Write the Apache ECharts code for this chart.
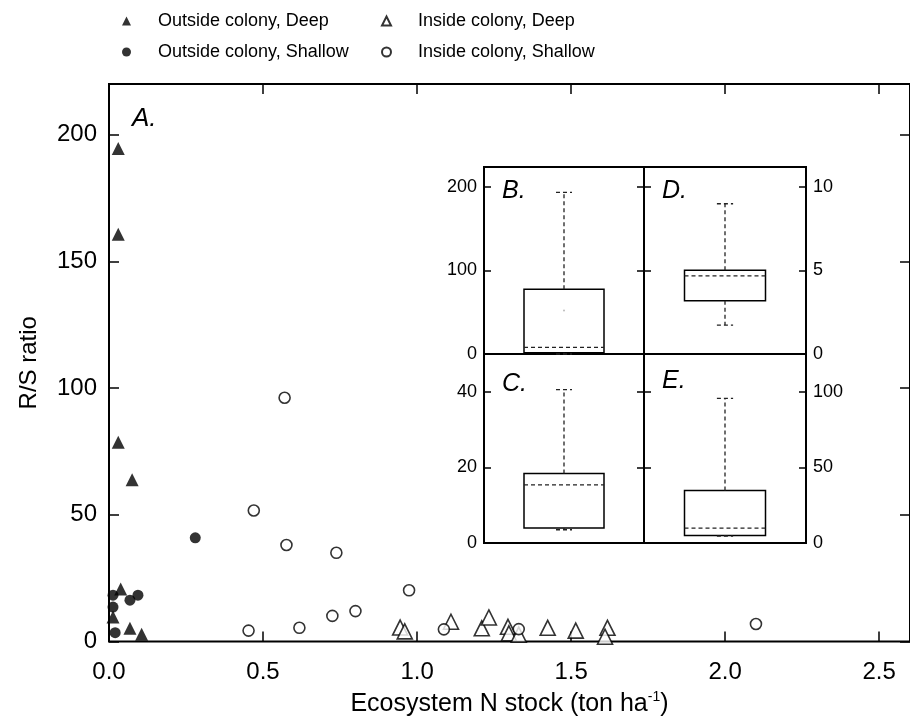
<!DOCTYPE html>
<html>
<head>
<meta charset="utf-8">
<script src="https://cdn.jsdelivr.net/npm/echarts@6/dist/echarts.min.js"></script>
<style>html,body{margin:0;padding:0;background:#fff}#c{width:910px;height:722px}</style>
</head>
<body>
<div id="c"></div>
<script>
// ---- data ----
const outsideDeep = [[0.03,194.5],[0.03,160.7],[0.03,78.6],[0.075,63.8],[0.038,20.7],[0.013,9.7],[0.068,5.2],[0.106,2.9]];
const outsideShallow = [[0.28,40.9],[0.013,18.3],[0.068,16.3],[0.094,18.3],[0.013,13.6],[0.02,3.5]];
const insideDeep = [[0.945,5.5],[0.96,4],[1.11,7.8],[1.21,5.2],[1.233,9.5],[1.295,5.8],[1.298,3.2],[1.33,2.7],[1.424,5.4],[1.515,4.3],[1.618,5.4],[1.61,1.9]];
const insideShallow = [[0.57,96.2],[0.47,51.7],[0.576,38.1],[0.738,35],[0.453,4.3],[0.618,5.4],[0.725,10.1],[0.80,12],[0.974,20.2],[1.087,4.8],[1.33,4.9],[2.10,6.9]];
// box plots: [min, q1, dashed line, q3, max]
const boxB = [0, 1.5, 8, 77.5, 193.6];
const meanB = 52;
const boxD = [1.73, 3.19, 4.68, 5.02, 9.0];
const boxC = [3.5, 4.0, 15.4, 18.4, 40.6];
const boxE = [4.5, 5.0, 9.9, 34.8, 95.6];
const seriesNames = ['Outside colony, Deep','Outside colony, Shallow','Inside colony, Deep','Inside colony, Shallow'];

const FONT = 'Liberation Sans, Arial, sans-serif';
const chart = echarts.init(document.getElementById('c'));

function renderBox(params, api){
  const mn=api.value(1), q1=api.value(2), md=api.value(3), q3=api.value(4), mx=api.value(5);
  const p=(x,y)=>api.coord([x,y]);
  const a=p(0.25,q3), b=p(0.75,q1);
  const dash={stroke:'#222', lineWidth:1.3, lineDash:[4,3], fill:null};
  const ln=(x1,y1,x2,y2)=>{const s=p(x1,y1),e=p(x2,y2);return {type:'line',shape:{x1:s[0],y1:s[1],x2:e[0],y2:e[1]},style:dash};};
  return {type:'group', children:[
    {type:'rect', shape:{x:a[0], y:a[1], width:b[0]-a[0], height:b[1]-a[1]}, style:{fill:'#fff', stroke:'#000', lineWidth:1.5}},
    ln(0.5,q3,0.5,mx), ln(0.45,mx,0.55,mx),
    ln(0.5,q1,0.5,mn), ln(0.45,mn,0.55,mn),
    ln(0.25,md,0.75,md)
  ]};
}

const insetGrids = [
  {left:484, top:167, width:160, height:187},
  {left:644, top:167, width:162, height:187},
  {left:484, top:354, width:160, height:189},
  {left:644, top:354, width:162, height:189}
];
const grids = [{left:109, top:84, width:804, height:566, show:true, borderColor:'#000', borderWidth:2, backgroundColor:'#fff'}]
  .concat(insetGrids.map(g=>Object.assign({show:true, borderColor:'#000', borderWidth:2, backgroundColor:'#fff'}, g)));

const insetY = (grid, max, interval, pos, labels) => ({
  type:'value', gridIndex:grid, min:0, max:max, interval:interval, position:pos,
  axisLine:{show:false, onZero:false}, splitLine:{show:false},
  axisTick:{show:true, inside:true, length:7, lineStyle:{color:'#000', width:1.5}},
  axisLabel:{show:labels, showMaxLabel:false, margin:7, color:'#000', fontSize:18, fontFamily:FONT}
});
const legendText = {fontFamily:FONT, fontSize:18, lineHeight:24, color:'#000'};

const option = {
  animation:false,
  backgroundColor:'#fff',
  grid: grids,
  legend: [
    {data:[seriesNames[0],seriesNames[1]], orient:'vertical', left:117, top:4, itemWidth:9, itemHeight:9, itemGap:7,
     textStyle:Object.assign({padding:[0,0,0,22]}, legendText)},
    {data:[seriesNames[2],seriesNames[3]], orient:'vertical', left:376, top:4, itemWidth:9, itemHeight:9, itemGap:7,
     textStyle:Object.assign({padding:[0,0,0,22]}, legendText)}
  ],
  xAxis: [
    {type:'value', gridIndex:0, min:0, max:2.6, interval:0.5, position:'bottom',
     axisLine:{show:false, onZero:false}, splitLine:{show:false},
     axisTick:{inside:true, length:10, lineStyle:{color:'#000', width:1.5}},
     axisLabel:{formatter:v=>v.toFixed(1), showMaxLabel:false, margin:19, color:'#000', fontSize:24, fontFamily:FONT},
     name:'{a|Ecosystem N stock (ton ha}{s|-1}{a|)}', nameLocation:'middle', nameGap:48,
     nameTextStyle:{rich:{a:{fontSize:25, fontFamily:FONT, color:'#000', lineHeight:30}, s:{fontSize:14, fontFamily:FONT, color:'#000', padding:[0,0,14,0]}}}},
    {type:'value', gridIndex:0, min:0, max:2.6, interval:0.5, position:'top',
     axisLine:{show:false, onZero:false}, splitLine:{show:false}, axisLabel:{show:false},
     axisTick:{inside:true, length:10, lineStyle:{color:'#000', width:1.5}}},
    {type:'value', gridIndex:1, min:0, max:1, show:false},
    {type:'value', gridIndex:2, min:0, max:1, show:false},
    {type:'value', gridIndex:3, min:0, max:1, show:false},
    {type:'value', gridIndex:4, min:0, max:1, show:false}
  ],
  yAxis: [
    {type:'value', gridIndex:0, min:0, max:220, interval:50, position:'left',
     axisLine:{show:false, onZero:false}, splitLine:{show:false},
     axisTick:{inside:true, length:10, lineStyle:{color:'#000', width:1.5}},
     axisLabel:{showMaxLabel:false, margin:12, color:'#000', fontSize:24, fontFamily:FONT},
     name:'R/S ratio', nameLocation:'middle', nameGap:68,
     nameTextStyle:{fontSize:24, fontFamily:FONT, color:'#000'}},
    {type:'value', gridIndex:0, min:0, max:220, interval:50, position:'right',
     axisLine:{show:false, onZero:false}, splitLine:{show:false}, axisLabel:{show:false},
     axisTick:{inside:true, length:10, lineStyle:{color:'#000', width:1.5}}},
    insetY(1, 224, 100, 'left', true),
    insetY(1, 224, 100, 'right', false),
    insetY(2, 11.2, 5, 'left', false),
    insetY(2, 11.2, 5, 'right', true),
    insetY(3, 50, 20, 'left', true),
    insetY(3, 50, 20, 'right', false),
    insetY(4, 125, 50, 'left', false),
    insetY(4, 125, 50, 'right', true)
  ],
  series: [
    {name:seriesNames[2], type:'scatter', xAxisIndex:0, yAxisIndex:0, data:insideDeep, symbol:'triangle', symbolSize:15,
     itemStyle:{color:'#fff', borderColor:'#000', borderWidth:1.6}},
    {name:seriesNames[3], type:'scatter', xAxisIndex:0, yAxisIndex:0, data:insideShallow, symbol:'circle', symbolSize:11,
     itemStyle:{color:'#fff', borderColor:'#000', borderWidth:1.6}},
    {name:seriesNames[0], type:'scatter', xAxisIndex:0, yAxisIndex:0, data:outsideDeep, symbol:'triangle', symbolSize:13,
     itemStyle:{color:'#000'}},
    {name:seriesNames[1], type:'scatter', xAxisIndex:0, yAxisIndex:0, data:outsideShallow, symbol:'circle', symbolSize:11,
     itemStyle:{color:'#000'}},
    {type:'custom', xAxisIndex:2, yAxisIndex:2, renderItem:renderBox, data:[[0.5].concat(boxB)], z:5},
    {type:'scatter', xAxisIndex:2, yAxisIndex:2, data:[[0.5, meanB]], symbolSize:2, itemStyle:{color:'#aaa'}, z:6},
    {type:'custom', xAxisIndex:3, yAxisIndex:4, renderItem:renderBox, data:[[0.5].concat(boxD)], z:5},
    {type:'custom', xAxisIndex:4, yAxisIndex:6, renderItem:renderBox, data:[[0.5].concat(boxC)], z:5},
    {type:'custom', xAxisIndex:5, yAxisIndex:8, renderItem:renderBox, data:[[0.5].concat(boxE)], z:5}
  ],
  graphic: [
    {type:'text', left:132, top:106, z:10, style:{text:'A.', font:'italic 26px '+FONT, fill:'#000'}},
    {type:'text', left:502, top:179, z:10, style:{text:'B.', font:'italic 25px '+FONT, fill:'#000'}},
    {type:'text', left:662, top:179, z:10, style:{text:'D.', font:'italic 25px '+FONT, fill:'#000'}},
    {type:'text', left:502, top:372, z:10, style:{text:'C.', font:'italic 25px '+FONT, fill:'#000'}},
    {type:'text', left:662, top:369, z:10, style:{text:'E.', font:'italic 25px '+FONT, fill:'#000'}}
  ]
};
chart.setOption(option);
</script>
</body>
</html>
